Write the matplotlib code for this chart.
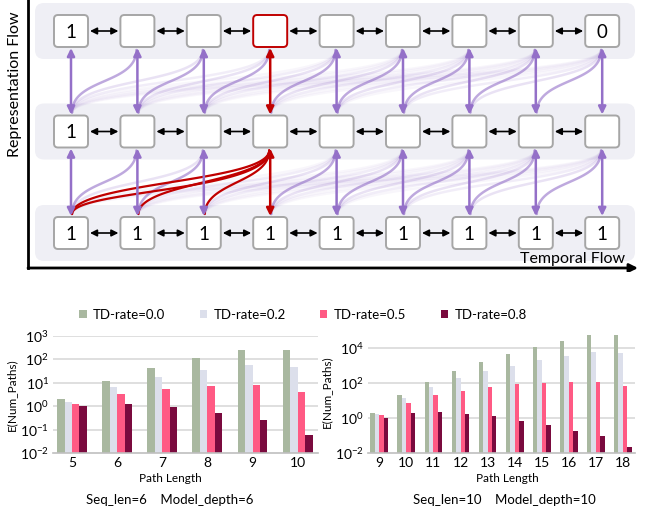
import numpy as np
import matplotlib
matplotlib.use("Agg")
import matplotlib.pyplot as plt
from matplotlib.patches import FancyBboxPatch, FancyArrowPatch
from matplotlib.patches import Patch

plt.rcParams['font.family'] = ['Lato', 'DejaVu Sans']
plt.rcParams['mathtext.fontset'] = 'custom'
plt.rcParams['mathtext.rm'] = 'Lato'
plt.rcParams['mathtext.default'] = 'regular'

# ---------------- data ----------------
top_vals = ["1", "", "", "", "", "", "", "", "0"]
mid_vals = ["1", "", "", "", "", "", "", "", ""]
bot_vals = ["1", "1", "1", "1", "1", "1", "1", "1", "1"]
highlight_col = 3

series_names = ["TD-rate=0.0", "TD-rate=0.2", "TD-rate=0.5", "TD-rate=0.8"]
series_colors = ["#a9b8a0", "#dcdfeb", "#ff5a84", "#7a0a3e"]

left_lengths = [5, 6, 7, 8, 9, 10]
left_td00 = [2.0, 11.8, 41, 110, 250, 250]
left_td02 = [1.5, 6.5, 17, 36, 59, 49]
left_td05 = [1.2, 3.3, 5.5, 7.0, 7.7, 4.1]
left_td08 = [1.0, 1.2, 0.88, 0.5, 0.25, 0.061]

right_lengths = [9, 10, 11, 12, 13, 14, 15, 16, 17, 18]
right_td00 = [2.0, 20.6, 114, 460, 1500, 4200, 10500, 25000, 50000, 50000]
right_td02 = [1.7, 12.7, 57, 177, 440, 930, 1900, 3300, 5600, 4600]
right_td05 = [1.55, 7.2, 19, 36, 57, 80, 96, 110, 114, 62]
right_td08 = [1.0, 1.9, 2.1, 1.7, 1.2, 0.7, 0.4, 0.19, 0.09, 0.022]

fig = plt.figure(figsize=(6.5, 5.12), dpi=100)

# ---------------- diagram ----------------
ax = fig.add_axes([0, 1 - 272 / 512, 1, 272 / 512])
ax.set_xlim(0, 650)
ax.set_ylim(272, 0)
ax.axis('off')

ncol = len(top_vals)
col_x = 71 + 66.4 * np.arange(ncol)
row_y = [31, 131.5, 233]
rows = [top_vals, mid_vals, bot_vals]
hw, hh = 17, 16
purple = '#9470c8'
red = '#c00000'

for y in row_y:
    ax.add_patch(FancyBboxPatch((35, y - 28), 600, 56,
                                boxstyle="round,pad=0,rounding_size=9",
                                fc='#efeff5', ec='none', zorder=0))

def bez(p0, p1, p2, p3, n=60):
    t = np.linspace(0, 1, n)[:, None]
    pts = ((1 - t) ** 3) * p0 + 3 * ((1 - t) ** 2) * t * p1 + 3 * (1 - t) * t ** 2 * p2 + t ** 3 * p3
    return pts[:, 0], pts[:, 1]

def curve(xj, xk, yl, yu, a=0.55, b=0.55, **kw):
    H = yl - yu
    bx, by = bez(np.array([xj, yl]), np.array([xj, yl - a * H]),
                 np.array([xk, yu + b * H]), np.array([xk, yu]))
    ax.plot(bx, by, solid_capstyle='round', **kw)

alphas = {1: 0.6, 2: 0.2, 3: 0.12}
for r in range(2):
    yu = row_y[r] + hh + 3
    yl = row_y[r + 1] - hh - 3
    for k in range(ncol):
        for j in range(k):
            d = k - j
            if r == 1 and k == highlight_col:
                continue
            al = alphas.get(d, 0.06)
            curve(col_x[j] + 1, col_x[k] - 1, yl, yu, color=purple, alpha=al,
                  lw=1.8, zorder=1)
    for k in range(ncol):
        c = red if k == highlight_col else purple
        ax.add_patch(FancyArrowPatch((col_x[k], row_y[r] + hh + 1), (col_x[k], row_y[r + 1] - hh - 1),
                                     arrowstyle='<|-|>,head_length=0.45,head_width=0.22',
                                     mutation_scale=10, color=c, lw=1.8, shrinkA=0, shrinkB=0, zorder=3))

# red curves to highlighted middle node
yu = row_y[1] + hh + 3
yl = row_y[2] - hh - 3
red_paths = [(0, 0.5, 0.5), (0, 0.38, 0.65), (1, 0.5, 0.5), (2, 0.5, 0.5)]
for j, a, b in red_paths:
    curve(col_x[j] + 1, col_x[highlight_col] - 1, yl, yu, a=a, b=b, color=red, lw=1.6, zorder=2)

# horizontal arrows & nodes
for r, y in enumerate(row_y):
    for i in range(ncol - 1):
        ax.add_patch(FancyArrowPatch((col_x[i] + hw + 2, y), (col_x[i + 1] - hw - 2, y),
                                     arrowstyle='<|-|>,head_length=0.4,head_width=0.2',
                                     mutation_scale=10, color='black', lw=1.2,
                                     shrinkA=0, shrinkB=0, zorder=3))
    for i in range(ncol):
        ec = red if (r == 0 and i == highlight_col) else '#a6a6a6'
        ax.add_patch(FancyBboxPatch((col_x[i] - hw, y - hh), 2 * hw, 2 * hh,
                                    boxstyle="round,pad=0,rounding_size=4",
                                    fc='white', ec=ec, lw=1.4, zorder=4))
        if rows[r][i]:
            ax.text(col_x[i], y + 1, rows[r][i], ha='center', va='center',
                    fontsize=13.5, zorder=5)

# axes of diagram
ax.plot([28, 28], [-2, 268], color='black', lw=2, zorder=5, clip_on=False)
ax.add_patch(FancyArrowPatch((28, 268), (638, 268),
                             arrowstyle='-|>,head_length=0.5,head_width=0.25',
                             mutation_scale=10, color='black', lw=2, shrinkA=0, shrinkB=0, zorder=5))
ax.text(15, 84, "Representation Flow", rotation=90, ha='center', va='center', fontsize=11.5)
ax.text(573, 259, "Temporal Flow", ha='center', va='center', fontsize=11.5)

# ---------------- bar charts ----------------
def bar_chart(rect, lengths, series, ymin, ymax, ticks):
    bx = fig.add_axes(rect)
    x = np.array(lengths, dtype=float)
    w = 0.165
    for s, (vals, col) in enumerate(zip(series, series_colors)):
        v = np.array(vals)
        bx.bar(x + (s - 1.5) * w, v - ymin, bottom=ymin, width=w, color=col,
               edgecolor='none', zorder=2)
    bx.set_yscale('log')
    bx.set_ylim(ymin, ymax)
    bx.set_xlim(x[0] - 0.42, x[-1] + 0.45)
    bx.set_yticks(ticks)
    bx.set_yticklabels(["10$^{%d}$" % int(np.log10(t)) for t in ticks], fontsize=10)
    bx.yaxis.set_minor_locator(matplotlib.ticker.NullLocator())
    bx.set_xticks(x)
    bx.set_xticklabels([str(l) for l in lengths], fontsize=10)
    bx.tick_params(length=0, pad=3)
    for t in ticks[1:]:
        bx.axhline(t, color='#d9d9d9', lw=1.2, zorder=1)
    for sp in ['top', 'right', 'left']:
        bx.spines[sp].set_visible(False)
    bx.spines['bottom'].set_color('#bfbfbf')
    bx.spines['bottom'].set_linewidth(1.2)
    bx.set_ylabel("E(Num_Paths)", fontsize=8.5, labelpad=2)
    return bx

lax = bar_chart([53 / 650, 1 - 453 / 512, 265 / 650, 117 / 512], left_lengths,
                [left_td00, left_td02, left_td05, left_td08], 1e-2, 1e3,
                [1e-2, 1e-1, 1e0, 1e1, 1e2, 1e3])
rax = bar_chart([368 / 650, 1 - 453 / 512, 267 / 650, 123 / 512], right_lengths,
                [right_td00, right_td02, right_td05, right_td08], 1e-2, 1e5,
                [1e-2, 1e0, 1e2, 1e4])

fig.text(170 / 650, 1 - 478 / 512, "Path Length", ha='center', va='center', fontsize=8.5)
fig.text(507 / 650, 1 - 478 / 512, "Path Length", ha='center', va='center', fontsize=8.5)
fig.text(170 / 650, 1 - 500 / 512, "Seq_len=6    Model_depth=6", ha='center', va='center', fontsize=9.5)
fig.text(504 / 650, 1 - 500 / 512, "Seq_len=10    Model_depth=10", ha='center', va='center', fontsize=9.5)

handles = [Patch(facecolor=c, edgecolor='none') for c in series_colors]
fig.legend(handles, series_names, loc='center', bbox_to_anchor=(303 / 650, 1 - 315 / 512),
           ncol=4, frameon=False, fontsize=9.5, handlelength=0.55, handleheight=0.55,
           handletextpad=0.5, columnspacing=2.6)

fig.savefig("out.png", dpi=100)
